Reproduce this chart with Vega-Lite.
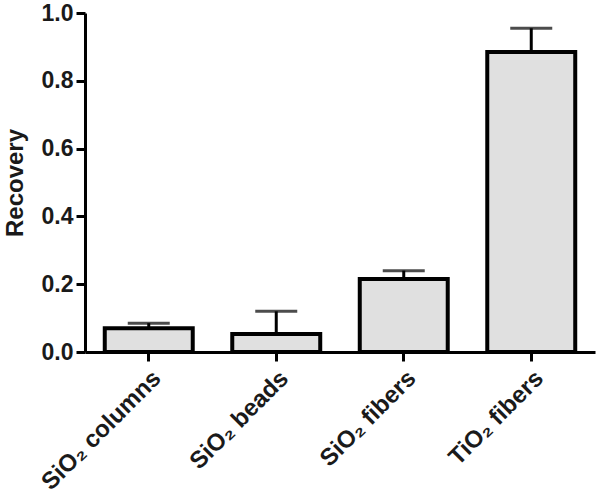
{
  "$schema": "https://vega.github.io/schema/vega-lite/v6.json",
  "width": 510,
  "height": 339,
  "autosize": {"type": "none"},
  "padding": {"left": 85, "top": 13, "right": 5, "bottom": 145},
  "background": "white",
  "config": {
    "view": {"stroke": null},
    "font": "Liberation Sans"
  },
  "data": {
    "values": [
      {"category": "SiO₂ columns", "value": 0.07, "upper": 0.085},
      {"category": "SiO₂ beads", "value": 0.053, "upper": 0.12},
      {"category": "SiO₂ fibers", "value": 0.215, "upper": 0.24},
      {"category": "TiO₂ fibers", "value": 0.885, "upper": 0.955}
    ]
  },
  "encoding": {
    "x": {
      "field": "category",
      "type": "nominal",
      "sort": null,
      "scale": {"paddingInner": 0.31, "paddingOuter": 0.155},
      "axis": {
        "title": null,
        "labelAngle": -45,
        "labelFont": "Liberation Sans",
        "labelFontWeight": "bold",
        "labelFontSize": 24,
        "labelColor": "#1a1a1a",
        "domainColor": "black",
        "domainWidth": 3,
        "tickColor": "black",
        "tickWidth": 3,
        "tickSize": 9,
        "labelPadding": 5,
        "grid": false
      }
    }
  },
  "layer": [
    {
      "mark": {"type": "bar", "fill": "#e0e0e0", "stroke": "black", "strokeWidth": 4},
      "encoding": {
        "y": {
          "field": "value",
          "type": "quantitative",
          "scale": {"domain": [0, 1]},
          "axis": {
            "title": "Recovery",
            "titleFont": "Liberation Sans",
            "titleFontSize": 24,
            "titleFontWeight": "bold",
            "titleColor": "#1a1a1a",
            "titlePadding": 14,
            "values": [0, 0.2, 0.4, 0.6, 0.8, 1.0],
            "format": ".1f",
            "labelFont": "Liberation Sans",
            "labelFontWeight": "bold",
            "labelFontSize": 23,
            "labelColor": "#1a1a1a",
            "labelPadding": 3,
            "domainColor": "black",
            "domainWidth": 3,
            "tickColor": "black",
            "tickWidth": 3,
            "tickSize": 9,
            "grid": false
          }
        }
      }
    },
    {
      "mark": {"type": "rule", "color": "black", "strokeWidth": 3},
      "encoding": {
        "y": {"field": "value", "type": "quantitative"},
        "y2": {"field": "upper"}
      }
    },
    {
      "mark": {"type": "tick", "color": "black", "thickness": 3, "size": 42},
      "encoding": {
        "y": {"field": "upper", "type": "quantitative"}
      }
    }
  ]
}
